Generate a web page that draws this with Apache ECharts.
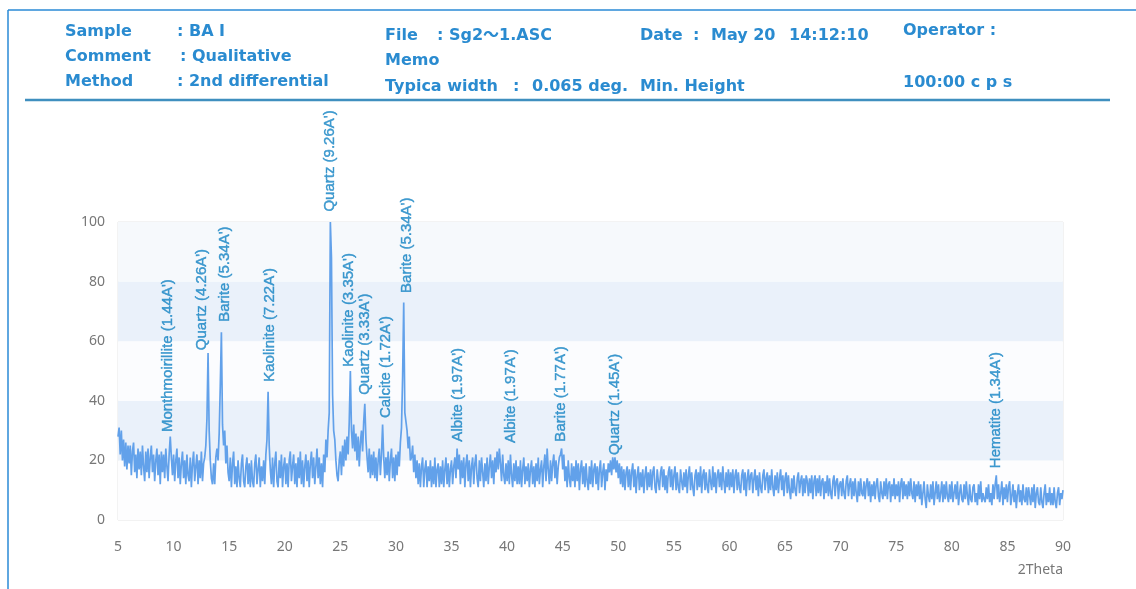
<!DOCTYPE html>
<html>
<head>
<meta charset="utf-8">
<script src="https://cdn.jsdelivr.net/npm/echarts@6/dist/echarts.min.js"></script>
<style>
html, body { margin: 0; padding: 0; background: #ffffff; }
#main { width: 1136px; height: 589px; }
</style>
</head>
<body>
<div id="main"></div>
<script>
// Scan grid: 2Theta from 5 to 90 deg in 0.1 deg steps
const scanStart = 5;
const scanStep = 0.1;

// Measured intensity, one row per degree (d.0 ... d.9)
const intensity = [
  28, 31, 22, 30, 20, 27, 18, 26, 17, 25,
  19, 25, 15, 23, 26, 16, 22, 14, 24, 17,
  23, 15, 25, 18, 13, 23, 16, 24, 14, 21,
  25, 16, 22, 13, 20, 24, 15, 22, 12, 23,
  16, 22, 14, 24, 18, 13, 22, 28, 21, 15,
  22, 13, 20, 24, 14, 21, 12, 19, 23, 14,
  20, 12, 22, 15, 13, 21, 11, 19, 23, 13,
  18, 22, 12, 20, 14, 23, 13, 19, 21, 25,
  34, 56, 30, 20, 14, 12, 19, 12, 21, 24,
  20, 29, 45, 63, 32, 25, 30, 19, 25, 16,
  13, 21, 11, 19, 23, 12, 18, 11, 20, 14,
  11, 19, 22, 13, 11, 18, 21, 12, 19, 11,
  20, 13, 11, 19, 22, 12, 17, 21, 11, 18,
  13, 20, 12, 22, 27, 43, 25, 17, 12, 21,
  11, 19, 23, 13, 11, 20, 14, 22, 11, 18,
  21, 12, 19, 11, 20, 23, 13, 18, 22, 12,
  19, 11, 21, 14, 23, 12, 20, 11, 18, 22,
  13, 20, 11, 19, 23, 14, 21, 12, 18, 24,
  14, 21, 12, 19, 11, 22, 16, 27, 21, 30,
  36, 100, 88, 42, 30, 27, 20, 15, 13, 20,
  23, 15, 25, 18, 27, 20, 28, 22, 33, 50,
  30, 24, 32, 23, 29, 20, 28, 18, 26, 30,
  23, 33, 39, 27, 21, 16, 24, 14, 22, 15,
  23, 14, 21, 13, 20, 24, 15, 22, 32, 21,
  14, 21, 15, 23, 13, 20, 24, 14, 21, 13,
  22, 15, 23, 18, 26, 31, 48, 73, 36, 33,
  30, 24, 28, 20, 21, 25, 16, 22, 14, 20,
  12, 19, 11, 18, 21, 11, 17, 20, 11, 18,
  13, 20, 11, 18, 12, 21, 11, 17, 19, 11,
  18, 12, 20, 11, 17, 21, 12, 19, 11, 17,
  20, 12, 18, 21, 14, 24, 17, 22, 12, 20,
  14, 21, 11, 19, 22, 13, 20, 11, 18, 21,
  12, 19, 22, 14, 11, 20, 13, 21, 16, 11,
  19, 13, 21, 12, 18, 22, 14, 20, 12, 21,
  16, 23, 17, 24, 19, 13, 22, 15, 12, 19,
  13, 20, 12, 22, 15, 11, 19, 13, 20, 12,
  18, 12, 20, 11, 17, 21, 12, 18, 13, 19,
  11, 17, 20, 12, 18, 11, 19, 13, 21, 12,
  17, 20, 11, 18, 22, 13, 24, 17, 12, 20,
  13, 19, 22, 14, 20, 12, 18, 21, 22, 24,
  17, 22, 13, 18, 11, 20, 14, 11, 19, 13,
  18, 11, 20, 13, 19, 10, 17, 20, 12, 18,
  11, 19, 13, 10, 18, 12, 20, 11, 17, 19,
  12, 18, 10, 17, 20, 11, 16, 19, 10, 17,
  13, 19, 16, 20, 15, 21, 17, 21, 16, 20,
  14, 19, 12, 18, 11, 17, 10, 16, 18, 11,
  17, 10, 16, 19, 11, 17, 9, 15, 18, 10,
  16, 11, 17, 9, 15, 18, 10, 16, 11, 17,
  10, 16, 18, 11, 9, 17, 13, 10, 16, 18,
  11, 17, 10, 15, 9, 16, 18, 11, 17, 10,
  15, 18, 10, 16, 11, 9, 17, 13, 10, 16,
  11, 17, 9, 15, 18, 10, 16, 11, 8, 15,
  17, 10, 16, 11, 18, 9, 15, 17, 10, 16,
  11, 9, 17, 13, 10, 18, 11, 16, 9, 15,
  17, 11, 16, 10, 18, 13, 9, 16, 11, 17,
  10, 16, 11, 17, 9, 15, 17, 10, 16, 11,
  9, 15, 17, 10, 16, 8, 14, 17, 10, 15,
  16, 9, 14, 17, 10, 15, 8, 16, 11, 9,
  15, 17, 10, 14, 16, 9, 15, 10, 17, 11,
  8, 15, 10, 16, 9, 14, 17, 10, 15, 8,
  14, 16, 9, 15, 10, 7, 14, 9, 15, 10,
  8, 14, 16, 9, 13, 15, 8, 14, 9, 15,
  13, 8, 14, 9, 15, 7, 13, 15, 8, 14,
  9, 15, 8, 13, 14, 7, 13, 9, 15, 8,
  14, 9, 7, 13, 15, 8, 13, 14, 7, 12,
  13, 8, 14, 9, 7, 13, 15, 8, 12, 14,
  7, 13, 8, 14, 9, 6, 13, 8, 14, 9,
  8, 13, 7, 12, 14, 8, 13, 6, 12, 8,
  13, 7, 12, 14, 8, 6, 13, 9, 7, 13,
  8, 14, 7, 12, 13, 6, 12, 8, 14, 7,
  12, 8, 13, 6, 12, 14, 7, 13, 8, 12,
  7, 13, 8, 14, 9, 7, 13, 6, 12, 8,
  13, 7, 12, 5, 9, 13, 7, 4, 12, 8,
  6, 12, 7, 13, 5, 9, 13, 7, 12, 6,
  9, 13, 6, 12, 7, 13, 8, 6, 12, 7,
  13, 6, 9, 12, 7, 13, 5, 9, 12, 7,
  6, 12, 7, 13, 8, 5, 12, 7, 6, 11,
  12, 6, 9, 5, 12, 7, 13, 6, 9, 7,
  6, 11, 7, 12, 6, 9, 5, 12, 7, 12,
  15, 7, 12, 6, 9, 13, 5, 11, 7, 12,
  6, 11, 13, 5, 8, 12, 6, 10, 4, 9,
  12, 6, 10, 5, 12, 7, 6, 11, 5, 11,
  8, 5, 11, 6, 12, 4, 9, 11, 6, 5,
  11, 6, 4, 9, 12, 5, 9, 6, 11, 5,
  9, 5, 11, 6, 4, 9, 11, 5, 9, 7,
  10
];

// Phase identification labels
const peakLabels = [
  "Monthmoirillite (1.44A')", "Quartz (4.26A')", "Barite (5.34A')", "Kaolinite (7.22A')",
  "Quartz (9.26A')", "Kaolinite (3.35A')", "Quartz (3.33A')", "Calcite (1.72A')",
  "Barite (5.34A')", "Albite (1.97A')", "Albite (1.97A')", "Barite (1.77A')",
  "Quartz (1.45A')", "Hematite (1.34A')"
];
// 2Theta of each label and the intensity where its text begins
const labelTheta = [9.45, 12.5, 14.58, 18.7, 24.1, 25.8, 27.2, 29.05, 30.95, 35.53, 40.3, 44.8, 49.65, 84.0];
const labelBase = [29.5, 57, 66.5, 46.4, 103.5, 51.4, 42, 34.2, 76.2, 26.3, 25.8, 26.3, 21.8, 17.4];

const yTicks = [0, 20, 40, 60, 80, 100];

// Instrument header
const headerItems = [
  { text: 'Sample', x: 65, y: 32 }, { text: ': BA I', x: 177, y: 32 },
  { text: 'Comment', x: 65, y: 57 }, { text: ': Qualitative', x: 180, y: 57 },
  { text: 'Method', x: 65, y: 82 }, { text: ': 2nd differential', x: 177, y: 82 },
  { text: 'File', x: 385, y: 36 }, { text: ': Sg2～1.ASC', x: 437, y: 36 },
  { text: 'Memo', x: 385, y: 61 },
  { text: 'Typica width', x: 385, y: 87 }, { text: ':', x: 513, y: 87 }, { text: '0.065 deg.', x: 532, y: 87 },
  { text: 'Date', x: 640, y: 36 }, { text: ':', x: 693, y: 36 }, { text: 'May 20', x: 711, y: 36 }, { text: '14:12:10', x: 789, y: 36 },
  { text: 'Min. Height', x: 640, y: 87 },
  { text: 'Operator :', x: 903, y: 31 },
  { text: '100:00 c p s', x: 903, y: 83 }
];

const curve = intensity.map((v, i) => [+(scanStart + i * scanStep).toFixed(1), v]);
const labelPoints = labelTheta.map((t, i) => [t, labelBase[i], peakLabels[i]]);

const headerFont = "bold 16px 'DejaVu Sans', 'Noto Sans CJK SC', sans-serif";
const graphics = [
  { type: 'line', shape: { x1: 8, y1: 10, x2: 1136, y2: 10 }, style: { stroke: '#2a8ad6', lineWidth: 1.5 }, silent: true },
  { type: 'line', shape: { x1: 8, y1: 10, x2: 8, y2: 589 }, style: { stroke: '#2a8ad6', lineWidth: 1.5 }, silent: true },
  { type: 'line', shape: { x1: 25, y1: 100, x2: 1110, y2: 100 }, style: { stroke: '#3f8fbf', lineWidth: 2.5 }, silent: true }
].concat(headerItems.map(h => ({
  type: 'text', x: h.x, y: h.y, silent: true,
  style: { text: h.text, font: headerFont, fill: '#2a8bd0', textAlign: 'left', textVerticalAlign: 'middle' }
})));

const chart = echarts.init(document.getElementById('main'), null, { renderer: 'canvas' });
chart.setOption({
  animation: false,
  backgroundColor: '#ffffff',
  graphic: graphics,
  grid: { left: 118, right: 73, top: 222, bottom: 69, show: true, borderColor: '#e6e6e6', borderWidth: 1, backgroundColor: 'transparent' },
  xAxis: {
    type: 'value', min: 5, max: 90, interval: 5,
    name: '2Theta', nameLocation: 'end', nameGap: 0,
    nameTextStyle: { color: '#777', fontSize: 14, fontFamily: 'Noto Sans', align: 'right', verticalAlign: 'top', padding: [43, 0, 0, 0] },
    axisLine: { show: false }, axisTick: { show: false },
    splitLine: { show: false },
    axisLabel: { color: '#777', fontSize: 14, fontFamily: 'Noto Sans', margin: 20 }
  },
  yAxis: {
    type: 'value', min: yTicks[0], max: yTicks[yTicks.length - 1], interval: 20,
    axisLine: { show: false }, axisTick: { show: false },
    splitLine: { show: false },
    splitArea: { show: true, areaStyle: { color: ['#fdfdfe', '#eaf1fa', '#fbfcfe', '#eaf1fa', '#f6f9fc'] } },
    axisLabel: { color: '#777', fontSize: 14, fontFamily: 'Noto Sans', margin: 13 }
  },
  series: [
    {
      type: 'line', data: curve, showSymbol: false, symbol: 'none',
      lineStyle: { color: '#62a1ea', width: 1.7 }, silent: true
    },
    {
      type: 'scatter', data: labelPoints, symbolSize: 0, clip: false, silent: true,
      label: {
        show: true, formatter: p => p.data[2], rotate: 90, position: 'top', distance: 0,
        align: 'left', verticalAlign: 'middle',
        color: '#1785c4', fontSize: 15, fontFamily: "'Liberation Sans', Arial, sans-serif",
        textBorderColor: '#1785c4', textBorderWidth: 0.4
      }
    }
  ]
});
</script>
</body>
</html>
